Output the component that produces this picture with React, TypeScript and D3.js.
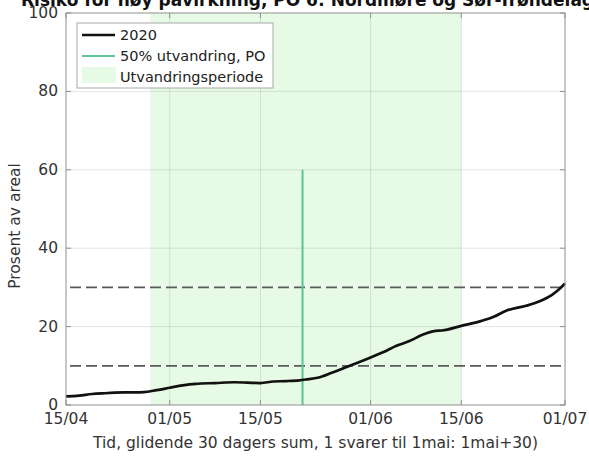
import { useEffect, useRef } from 'react'
import * as d3 from 'd3'

// 2020 series (day/month, percent of area)
const lineDates = [
  '15/04', '17/04', '19/04', '21/04', '24/04', '27/04', '29/04', '01/05', '03/05', '05/05',
  '08/05', '11/05', '13/05', '15/05', '17/05', '19/05', '21/05', '22/05', '24/05', '26/05',
  '28/05', '30/05', '01/06', '03/06', '05/06', '07/06', '09/06', '11/06', '12/06', '15/06',
  '18/06', '20/06', '22/06', '25/06', '27/06', '29/06', '30/06', '01/07'
]
const lineValues = [
  2.2, 2.4, 2.8, 3.0, 3.2, 3.3, 3.8, 4.4, 5.0, 5.4,
  5.6, 5.8, 5.7, 5.6, 6.0, 6.1, 6.3, 6.5, 7.0, 8.2,
  9.5, 10.8, 12.1, 13.5, 15.1, 16.3, 17.9, 18.9, 19.0, 20.2,
  21.4, 22.5, 24.1, 25.3, 26.4, 28.1, 29.4, 31.0
]

const xTickLabels = ['15/04', '01/05', '15/05', '01/06', '15/06', '01/07']
const yTicks = [0, 20, 40, 60, 80, 100]
const thresholds = [10, 30]
const migrationPeriod = ['28/04', '15/06']
const migrationMid = '21/05 12'
const migrationMidHeight = 60

const parseDay = d3.timeParse('%d/%m/%Y')
const parseDayHour = d3.timeParse('%d/%m/%Y %H')
const toDate = (s: string) => (s.length > 5 ? parseDayHour(s.slice(0, 5) + '/2020' + s.slice(5)) : parseDay(s + '/2020')) as Date

export default function App() {
  const svgRef = useRef<SVGSVGElement>(null)

  useEffect(() => {
    if (!svgRef.current) return
    const svg = d3.select(svgRef.current)
    svg.selectAll('*').remove()

    const font = 'DejaVu Sans, sans-serif'
    const left = 66, right = 565, top = 13, bottom = 405

    const x = d3.scaleTime()
      .domain([toDate('15/04'), toDate('01/07')])
      .range([left, right])
    const y = d3.scaleLinear().domain([0, 100]).range([bottom, top])

    svg.append('rect').attr('width', 589).attr('height', 457).style('fill', 'white')

    // Migration period band
    svg.append('rect')
      .attr('x', x(toDate(migrationPeriod[0])))
      .attr('y', top)
      .attr('width', x(toDate(migrationPeriod[1])) - x(toDate(migrationPeriod[0])))
      .attr('height', bottom - top)
      .style('fill', '#e6fae6')

    // Grid
    const g = svg.append('g')
    xTickLabels.slice(1, -1).forEach(t => {
      g.append('line')
        .attr('x1', x(toDate(t))).attr('x2', x(toDate(t)))
        .attr('y1', top).attr('y2', bottom)
        .style('stroke', '#262626').style('stroke-opacity', 0.12).style('stroke-width', 1)
    })
    yTicks.slice(1, -1).forEach(t => {
      g.append('line')
        .attr('x1', left).attr('x2', right)
        .attr('y1', y(t)).attr('y2', y(t))
        .style('stroke', '#262626').style('stroke-opacity', 0.12).style('stroke-width', 1)
    })

    // Threshold dashed lines
    thresholds.forEach(t => {
      svg.append('line')
        .attr('x1', left + 4).attr('x2', right)
        .attr('y1', y(t)).attr('y2', y(t))
        .style('stroke', '#5a5a5a')
        .style('stroke-width', 1.8)
        .style('stroke-dasharray', '11,5')
    })

    // 50% migration line
    svg.append('line')
      .attr('x1', x(toDate(migrationMid))).attr('x2', x(toDate(migrationMid)))
      .attr('y1', y(0)).attr('y2', y(migrationMidHeight))
      .style('stroke', '#5cc495')
      .style('stroke-width', 2)

    // 2020 line
    const data = lineDates.map((d, i) => ({ date: toDate(d), value: lineValues[i] }))
    const line = d3.line<{ date: Date, value: number }>()
      .x(d => x(d.date))
      .y(d => y(d.value))
      .curve(d3.curveMonotoneX)
    svg.append('path')
      .attr('d', line(data))
      .style('fill', 'none')
      .style('stroke', '#111')
      .style('stroke-width', 2.7)

    // Axes box
    svg.append('rect')
      .attr('x', left).attr('y', top)
      .attr('width', right - left).attr('height', bottom - top)
      .style('fill', 'none')
      .style('stroke', '#8f8f8f')
      .style('stroke-width', 1)

    // Ticks and labels
    xTickLabels.forEach(t => {
      const px = x(toDate(t))
      svg.append('line').attr('x1', px).attr('x2', px).attr('y1', bottom).attr('y2', bottom - 5)
        .style('stroke', '#8f8f8f')
      svg.append('line').attr('x1', px).attr('x2', px).attr('y1', top).attr('y2', top + 5)
        .style('stroke', '#8f8f8f')
      svg.append('text')
        .attr('x', px).attr('y', 424)
        .style('text-anchor', 'middle')
        .style('font-family', font).style('font-size', '15.5px')
        .style('fill', '#333')
        .text(t)
    })
    yTicks.forEach(t => {
      const py = y(t)
      svg.append('line').attr('x1', left).attr('x2', left + 5).attr('y1', py).attr('y2', py)
        .style('stroke', '#8f8f8f')
      svg.append('line').attr('x1', right).attr('x2', right - 5).attr('y1', py).attr('y2', py)
        .style('stroke', '#8f8f8f')
      svg.append('text')
        .attr('x', 58).attr('y', py + 5)
        .style('text-anchor', 'end')
        .style('font-family', font).style('font-size', '15.5px')
        .style('fill', '#333')
        .text(t)
    })

    // Axis labels
    svg.append('text')
      .attr('x', (left + right) / 2).attr('y', 448)
      .style('text-anchor', 'middle')
      .style('font-family', font).style('font-size', '15.5px')
      .style('fill', '#333')
      .text('Tid, glidende 30 dagers sum, 1 svarer til 1mai: 1mai+30)')
    svg.append('text')
      .attr('transform', `translate(20,226) rotate(-90)`)
      .style('text-anchor', 'middle')
      .style('font-family', font).style('font-size', '15.5px')
      .style('fill', '#333')
      .text('Prosent av areal')

    // Title (cut off at the top in the original)
    svg.append('text')
      .attr('x', 21).attr('y', 6)
      .style('font-family', font).style('font-size', '17px').style('font-weight', 'bold')
      .style('fill', '#111')
      .text('Risiko for høy påvirkning, PO 6: Nordmøre og Sør-Trøndelag')

    // Legend
    const lg = svg.append('g')
    lg.append('rect')
      .attr('x', 77).attr('y', 23).attr('width', 196).attr('height', 65)
      .style('fill', 'white').style('stroke', '#a8a8a8').style('stroke-width', 1)
    lg.append('line').attr('x1', 82).attr('x2', 115).attr('y1', 35).attr('y2', 35)
      .style('stroke', '#111').style('stroke-width', 2.5)
    lg.append('line').attr('x1', 82).attr('x2', 115).attr('y1', 56).attr('y2', 56)
      .style('stroke', '#5cc495').style('stroke-width', 2)
    lg.append('rect').attr('x', 82).attr('y', 67).attr('width', 34).attr('height', 16)
      .style('fill', '#e6fae6')
    const items = ['2020', '50% utvandring, PO', 'Utvandringsperiode']
    items.forEach((t, i) => {
      lg.append('text')
        .attr('x', 120).attr('y', 40 + i * 21)
        .style('font-family', font).style('font-size', '14.5px')
        .style('fill', '#222')
        .text(t)
    })
  }, [])

  return (
    <svg ref={svgRef} width={589} height={457}
      style={{ position: 'absolute', left: 0, top: 0 }} />
  )
}
